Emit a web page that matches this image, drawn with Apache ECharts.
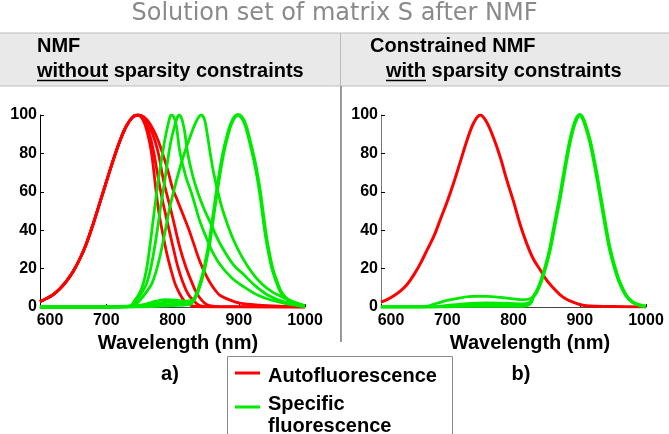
<!DOCTYPE html>
<html>
<head>
<meta charset="utf-8">
<script src="https://cdn.jsdelivr.net/npm/echarts@6/dist/echarts.min.js"></script>
<style>
  html, body { margin: 0; padding: 0; background: #fff; }
  #chart { width: 669px; height: 434px; }
</style>
</head>
<body>
<div id="chart"></div>
<script>
// wavelength (nm) / normalised intensity pairs
const xTicks = [600, 700, 800, 900, 1000];
const yTicks = [0, 20, 40, 60, 80, 100];

// a) NMF without sparsity constraints
const leftRedRise = [[600, 2.8], [610, 4.5], [620, 6.5], [630, 9.5], [640, 13.5], [650, 18.5], [660, 25], [670, 33], [680, 43], [690, 54], [700, 65], [710, 76], [720, 86], [730, 94], [740, 99], [748, 100]];
const leftRedFall1 = [[756, 97], [762, 91], [768, 81], [772, 70], [776, 58], [780, 48], [786, 37], [792, 27], [798, 19], [804, 12], [810, 7.5], [816, 4], [822, 2], [830, 0.6], [845, 0.1], [1000, 0]];
const leftRedFall2 = [[758, 97], [766, 89], [772, 80], [778, 68], [784, 57], [791, 46], [801, 31], [808, 21], [816, 12.5], [824, 6.5], [831, 3.6], [841, 0.8], [860, 0.1], [1000, 0]];
const leftRedFall3 = [[760, 97], [770, 90], [778, 81], [787, 65], [795, 54], [800, 47], [811, 31], [820, 21], [829, 13], [836, 7.5], [844, 3.6], [853, 1], [870, 0.2], [1000, 0]];
const leftRedFall4 = [[760, 98], [770, 93], [778, 87], [786, 79], [793, 71], [800, 62], [808, 55], [816, 48], [824, 41], [832, 33], [841, 24], [850, 17], [857, 12.5], [865, 8.5], [872, 6], [887, 3.6], [902, 2], [930, 1], [960, 0.5], [1000, 0.2]];

const leftGreen1 = [[600, 0], [700, 0], [730, 0.2], [738, 1], [743, 3.5], [750, 7], [756, 12.3], [761, 20], [766, 32], [770, 43], [774, 54], [779, 67], [784, 78], [789, 88], [794, 96], [798, 100], [802, 99], [806, 94], [811, 81], [820, 68], [829, 59], [835, 52], [841, 45], [850, 37], [860, 29], [872, 22], [890, 15], [910, 10], [930, 6], [950, 3.5], [975, 1.5], [1000, 0.3]];
const leftGreen2 = [[600, 0], [700, 0], [735, 0.2], [741, 1], [746, 3.6], [753, 7], [761, 12.3], [767, 20], [772, 29], [777, 40], [782, 52], [788, 65], [793, 77], [798, 87], [803, 94], [807, 98.5], [810, 100], [814, 98], [818, 92], [823, 80], [830, 69], [836, 62], [842, 56], [849, 50], [857, 44], [866, 37], [875, 31], [892, 22], [907, 17], [925, 11], [945, 6], [970, 2.5], [1000, 0.3]];
const leftGreen3 = [[600, 0], [700, 0], [740, 0.5], [751, 3.6], [760, 7.5], [769, 12.3], [778, 22], [787, 36], [796, 52], [806, 66], [816, 78], [826, 88], [835, 96], [843, 100], [848, 98], [852, 91], [857, 80], [862, 70], [872, 55], [880, 46], [892, 35], [905, 26], [922, 17], [935, 12], [950, 8], [967, 5], [985, 2.5], [1000, 0.8]];
const leftGreenPeak = [[600, 0], [700, 0], [760, 0.5], [800, 1], [825, 1.5], [832, 3.6], [838, 8], [846, 17], [851, 25], [856, 34], [861, 46], [866, 58], [871, 69], [876, 79], [882, 88], [888, 95], [894, 99], [899, 100], [904, 99], [910, 95], [917, 86], [925, 74], [932, 60], [937, 47], [942, 35], [950, 21], [957, 13.4], [965, 7], [977, 3], [990, 1.2], [1000, 0.5]];
const leftBump1 = [[700, 0], [740, 0.3], [760, 1.5], [775, 3], [790, 3.8], [805, 3.6], [820, 3], [832, 3.6]];
const leftBump2 = [[740, 0], [760, 0.8], [780, 2], [800, 2.6], [815, 2.3], [832, 3.6]];
const leftBump3 = [[760, 0], [790, 1], [810, 1.5], [825, 2], [832, 3.6]];

// b) Constrained NMF with sparsity constraints
const rightRed = [[600, 2.5], [610, 4], [620, 6], [630, 8.5], [640, 12], [650, 17], [660, 23], [670, 30], [680, 37], [690, 46], [700, 55], [710, 65], [720, 76], [730, 87], [740, 96], [750, 100], [760, 96], [770, 88], [780, 78], [790, 66], [800, 55], [810, 43], [820, 33], [830, 25], [840, 19.5], [850, 14], [860, 10], [870, 6.5], [880, 4], [890, 2.5], [900, 1.3], [910, 0.7], [925, 0.4], [950, 0.2], [1000, 0]];
const rightGreenPeak = [[830, 5.5], [835, 8], [840, 12], [845, 17], [850, 23], [855, 30], [860, 39], [865, 48], [870, 57], [875, 67], [880, 77], [885, 86], [890, 93], [895, 98], [900, 100], [905, 98], [910, 93], [915, 87], [920, 79], [925, 70], [930, 60], [935, 50], [940, 40], [945, 31], [950, 24], [955, 18], [960, 13], [970, 6], [980, 2.5], [990, 1], [1000, 0.3]];
const rightBump1 = [[600, 0], [660, 0], [670, 0.3], [680, 1.5], [700, 3.5], [720, 4.8], [740, 5.5], [760, 5.5], [780, 5], [800, 4.2], [815, 3.8], [825, 4.3], [830, 5.5]];
const rightBump2 = [[600, 0], [680, 0], [700, 0.8], [730, 1.8], [760, 2.2], [790, 2], [815, 1.6], [825, 2.5], [830, 5.5]];
const rightBump3 = [[600, 0], [700, 0], [730, 0.8], [760, 1.3], [790, 1.2], [815, 1], [825, 2], [830, 5.5]];
const rightBump4 = [[600, 0], [760, 0.3], [815, 0.4], [825, 1.5], [830, 5.5]];

const RED = '#ff0000';
const GREEN = '#00ea00';
const FONT = '"Liberation Sans", Arial, sans-serif';
const AUTO = 'Autofluorescence';
const SPEC = 'Specific fluorescence';

function line(name, idx, data, color, width) {
  return {
    name: name,
    type: 'line',
    xAxisIndex: idx,
    yAxisIndex: idx,
    data: data,
    smooth: 0.35,
    showSymbol: false,
    symbol: 'none',
    color: color,
    lineStyle: { color: color, width: width || 2.8 },
    silent: true
  };
}

const series = [];
[leftRedFall1, leftRedFall2, leftRedFall3, leftRedFall4].forEach(f => {
  series.push(line(AUTO, 0, leftRedRise.concat(f), RED));
});
[leftBump1, leftBump2, leftBump3].forEach(b => series.push(line(SPEC, 0, b, GREEN)));
series.push(line(SPEC, 0, leftGreenPeak, GREEN, 3.8));
[leftGreen1, leftGreen2, leftGreen3].forEach(g => series.push(line(SPEC, 0, g, GREEN)));

series.push(line(AUTO, 1, rightRed, RED, 3));
[rightBump1, rightBump2, rightBump3, rightBump4].forEach(b => series.push(line(SPEC, 1, b, GREEN)));
series.push(line(SPEC, 1, rightGreenPeak, GREEN, 3.8));

const labelStyle = { fontSize: 16, fontWeight: 'bold', color: '#000', fontFamily: FONT };

function xAxis(idx, namePad) {
  return {
    type: 'value', gridIndex: idx,
    min: xTicks[0], max: xTicks[xTicks.length - 1], interval: 100,
    name: 'Wavelength (nm)', nameLocation: 'middle', nameGap: 26,
    nameTextStyle: { fontSize: 20, fontWeight: 'bold', color: '#000', fontFamily: FONT, padding: [0, 0, 0, namePad] },
    axisLine: { show: true, lineStyle: { color: '#444', width: 1 } },
    axisTick: { show: true, inside: true, length: 3, lineStyle: { color: '#000' } },
    splitLine: { show: false },
    axisLabel: Object.assign({}, labelStyle, {
      margin: 6,
      formatter: v => (v === xTicks[0] ? '{s|' + v + '}' : String(v)),
      rich: { s: Object.assign({}, labelStyle, { padding: [0, 0, 0, 20] }) }
    })
  };
}

function yAxis(idx, axisColor) {
  return {
    type: 'value', gridIndex: idx,
    min: yTicks[0], max: yTicks[yTicks.length - 1], interval: 20,
    axisLine: { show: true, lineStyle: { color: axisColor, width: 1 } },
    axisTick: { show: true, inside: true, length: 4, lineStyle: { color: '#000' } },
    splitLine: { show: false },
    axisLabel: Object.assign({}, labelStyle, { margin: 3 })
  };
}

// legend icon: bar at the top of a taller box so it sits above the text centre
const barIcon = h => 'path://M0,0L25,0L25,3L0,3Z M0,' + h + 'L0.01,' + h;
const legendText = { fontSize: 20, fontWeight: 'bold', color: '#000', fontFamily: FONT, lineHeight: 22, padding: [0, 0, 0, 3] };

const txt = (x, y, text, extra) => ({
  type: 'text', x: x, y: y, silent: true,
  style: Object.assign({ text: text, fill: '#000', font: 'bold 20px ' + FONT, textVerticalAlign: 'middle', verticalAlign: 'middle' }, extra || {})
});
const seg = (x1, y1, x2, y2, stroke, w) => ({
  type: 'line', silent: true, shape: { x1: x1, y1: y1, x2: x2, y2: y2 }, style: { stroke: stroke, lineWidth: w }
});

const chart = echarts.init(document.getElementById('chart'), null, { renderer: 'canvas' });
chart.setOption({
  animation: false,
  backgroundColor: '#fff',
  grid: [
    { left: 40, right: 364, top: 115, bottom: 127, containLabel: false, outerBoundsMode: 'none' },
    { left: 381, right: 23, top: 115, bottom: 127, containLabel: false, outerBoundsMode: 'none' }
  ],
  xAxis: [xAxis(0, 11), xAxis(1, 33)],
  yAxis: [yAxis(0, '#000'), yAxis(1, '#777')],
  legend: [
    {
      left: 235, top: 365, padding: 0, data: [AUTO], selectedMode: false,
      icon: barIcon(9), itemWidth: 25, itemHeight: 9, textStyle: legendText
    },
    {
      left: 235, top: 393, padding: 0, data: [SPEC], selectedMode: false,
      icon: barIcon(19), itemWidth: 25, itemHeight: 19, textStyle: legendText,
      formatter: () => 'Specific\nfluorescence'
    }
  ],
  graphic: [
    { type: 'rect', silent: true, z: -1, shape: { x: -1, y: 33, width: 671, height: 53 }, style: { fill: '#e9e9e9', stroke: '#bcbcbc', lineWidth: 1 } },
    seg(340.5, 33, 340.5, 86, '#bcbcbc', 1),
    seg(341, 86, 341, 342, '#9a9a9a', 2),
    { type: 'rect', silent: true, shape: { x: 227.5, y: 356.5, width: 225, height: 100 }, style: { fill: 'none', stroke: '#8a8a8a', lineWidth: 1 } },
    txt(334.5, 14, 'Solution set of matrix S after NMF', { font: '24px "DejaVu Sans", sans-serif', fill: '#8a8a8a', textAlign: 'center', align: 'center' }),
    txt(37, 46.5, 'NMF'),
    txt(37, 71, 'without sparsity constraints'),
    seg(37, 80.5, 108, 80.5, '#000', 1.5),
    txt(370, 46.5, 'Constrained NMF'),
    txt(386, 71, 'with sparsity constraints'),
    seg(386, 80.5, 426, 80.5, '#000', 1.5),
    txt(170, 374, 'a)', { textAlign: 'center', align: 'center' }),
    txt(521, 374, 'b)', { textAlign: 'center', align: 'center' })
  ],
  series: series
});
</script>
</body>
</html>
